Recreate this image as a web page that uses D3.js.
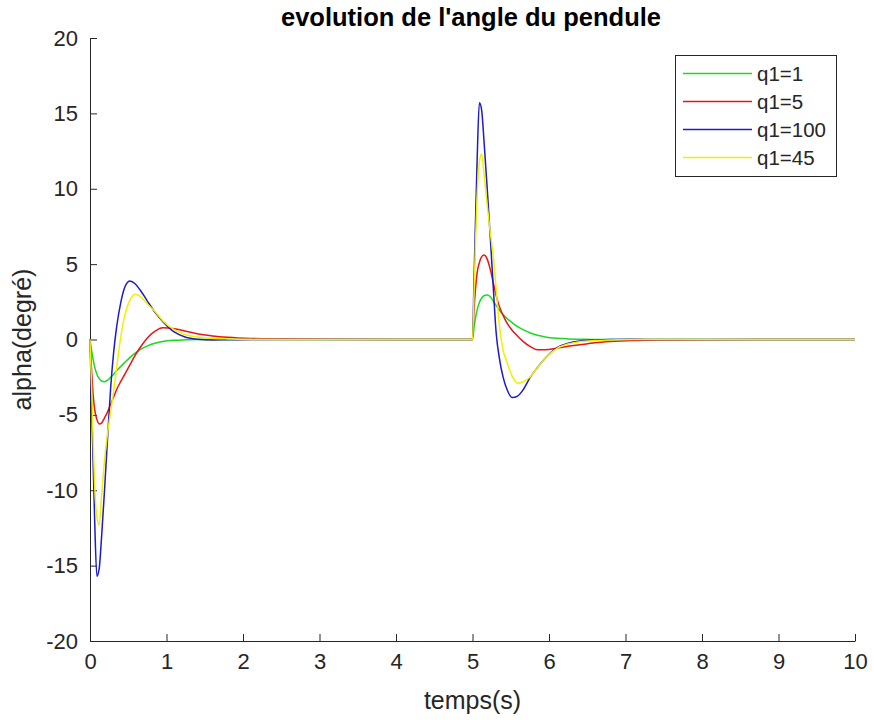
<!DOCTYPE html>
<html lang="fr">
    <head>
        <meta charset="utf-8">
        <title>evolution de l'angle du pendule</title>
        <script type="text/javascript" src="https://cdn.jsdelivr.net/npm/d3@7"></script>
		<style>
		body {margin: 0; background: white;}
		text {font-family: "Liberation Sans", Arial, Helvetica, sans-serif; fill: #262626;}
		.courbe {fill: none; stroke-width: 1.5;}
		.axe path, .axe line {stroke: #262626; stroke-width: 1;}
		</style>
    </head>
    <body>
		<svg width="874" height="722"></svg>

        <script type="text/javascript">
		/// donnees
		var temps = [0,0.02,0.04,0.06,0.09,0.12,0.15,0.19,0.23,0.27,0.31,0.35,0.4,0.45,0.52,0.59,0.66,0.75,0.85,0.95,1.1,1.25,1.4,1.6,1.8,2.1,2.5,3,4,
			5,5.02,5.04,5.06,5.09,5.12,5.15,5.19,5.23,5.27,5.31,5.35,5.4,5.45,5.52,5.59,5.66,5.75,5.85,5.95,6.1,6.25,6.4,6.6,6.8,7.1,7.5,8,9,10];

		var q1_1 = [0,-0.7,-1.3,-1.8,-2.3,-2.6,-2.75,-2.8,-2.7,-2.5,-2.3,-2.05,-1.8,-1.55,-1.2,-0.9,-0.65,-0.42,-0.25,-0.13,-0.05,-0.02,0,0,0,0,0,0,0,
			0,0.8,1.45,1.95,2.45,2.75,2.9,2.95,2.85,2.55,2.25,1.95,1.65,1.4,1.1,0.85,0.65,0.45,0.28,0.17,0.08,0.04,0.02,0,0,0,0,0,0,0];
		var q1_5 = [0,-2.0,-3.6,-4.6,-5.3,-5.6,-5.55,-5.2,-4.8,-4.3,-3.8,-3.3,-2.8,-2.35,-1.7,-1.05,-0.5,0.1,0.55,0.78,0.72,0.55,0.38,0.24,0.15,0.07,0.03,0.01,0,
			0,2.0,3.4,4.4,5.1,5.5,5.6,5.35,4.7,3.8,2.9,2.2,1.6,1.1,0.6,0.22,-0.12,-0.45,-0.68,-0.68,-0.58,-0.45,-0.35,-0.22,-0.14,-0.07,-0.03,-0.01,0,0];
		var q1_100 = [0,-4,-8,-11.8,-15.7,-15.2,-13.2,-10.0,-6.5,-3.2,-0.8,0.9,2.4,3.4,3.88,3.7,3.25,2.55,1.8,1.2,0.5,0.15,0.02,-0.03,-0.02,0,0,0,0,
			0,4,8,11.8,15.7,15.2,13.2,10.2,7.0,3.6,0.4,-1.2,-2.5,-3.3,-3.85,-3.75,-3.35,-2.55,-1.85,-1.25,-0.55,-0.25,-0.1,-0.03,0,0.01,0,0,0,0];
		var q1_45 = [0,-3,-6.5,-9.5,-11.8,-12.3,-10.5,-8.0,-6.2,-4.8,-3.4,-1.8,0.1,1.5,2.6,3.0,2.85,2.35,1.85,1.25,0.65,0.32,0.17,0.08,0.04,0.01,0,0,0,
			0,3,6.5,9.5,11.8,12.3,11.0,9.0,7.2,5.6,3.3,1.0,-0.7,-1.5,-2.45,-2.9,-2.8,-2.5,-1.85,-1.25,-0.6,-0.3,-0.15,-0.07,-0.03,0,0,0,0,0];

		var noms = ["q1=1", "q1=5", "q1=100", "q1=45"];
		var couleurs = ["#1fd81f", "#e81515", "#1c1cc8", "#f2f000"];
		var xTicks = [0,1,2,3,4,5,6,7,8,9,10];
		var yTicks = [-20,-15,-10,-5,0,5,10,15,20];

		var series = [q1_1, q1_5, q1_100, q1_45];

		var svg = d3.select("svg");

		/// echelles
		var x = d3.scaleLinear().domain([0, 10]).range([90, 855]);
		var y = d3.scaleLinear().domain([-20, 20]).range([641, 38]);

		/// format avec un tiret simple (pas le signe moins unicode)
		var fmt = function(d) { return String(d) };

		/// axes (graduations vers l'interieur, style matlab)
		svg.append("g")
			.attr("class", "axe")
			.attr("transform", "translate(0,641)")
			.call(d3.axisBottom(x).tickValues(xTicks).tickFormat(fmt).tickSize(-7).tickSizeOuter(0).tickPadding(12))
			.selectAll("text")
				.style("font-size", "22px");

		svg.append("g")
			.attr("class", "axe")
			.attr("transform", "translate(90,0)")
			.call(d3.axisLeft(y).tickValues(yTicks).tickFormat(fmt).tickSize(-7).tickSizeOuter(0).tickPadding(12))
			.selectAll("text")
				.style("font-size", "22px");

		svg.selectAll(".axe text").attr("fill", "#262626");

		/// courbes
		var ligne = d3.line()
			.x(function(d, i) { return x(temps[i]) })
			.y(function(d) { return y(d) })
			.curve(d3.curveMonotoneX);

		svg.append("g").selectAll("path")
			.data(series)
			.enter()
			.append("path")
				.attr("class", "courbe")
				.attr("stroke", function(d, i) { return couleurs[i] })
				.attr("d", ligne);

		/// titres
		svg.append("text")
			.attr("x", 471)
			.attr("y", 26)
			.attr("text-anchor", "middle")
			.style("font-size", "25.5px")
			.style("font-weight", "bold")
			.style("fill", "#000")
			.text("evolution de l'angle du pendule");

		svg.append("text")
			.attr("x", 472.5)
			.attr("y", 709)
			.attr("text-anchor", "middle")
			.style("font-size", "25px")
			.text("temps(s)");

		svg.append("text")
			.attr("transform", "translate(31,339.5) rotate(-90)")
			.attr("text-anchor", "middle")
			.style("font-size", "25px")
			.text("alpha(degré)");

		/// legende
		var leg = svg.append("g");
		leg.append("rect")
			.attr("x", 675.5)
			.attr("y", 55.5)
			.attr("width", 161)
			.attr("height", 121)
			.attr("fill", "white")
			.attr("stroke", "#262626")
			.attr("stroke-width", 1);

		var lignesLeg = leg.selectAll("g.item")
			.data(noms)
			.enter()
			.append("g")
				.attr("class", "item")
				.attr("transform", function(d, i) { return "translate(0," + (73.5 + i * 28) + ")" });

		lignesLeg.append("line")
			.attr("x1", 683)
			.attr("x2", 752)
			.attr("stroke", function(d, i) { return couleurs[i] })
			.attr("stroke-width", 1.5);

		lignesLeg.append("text")
			.attr("x", 757)
			.attr("dy", "0.35em")
			.style("font-size", "20.5px")
			.text(function(d) { return d });

        </script>
    </body>
</html>
